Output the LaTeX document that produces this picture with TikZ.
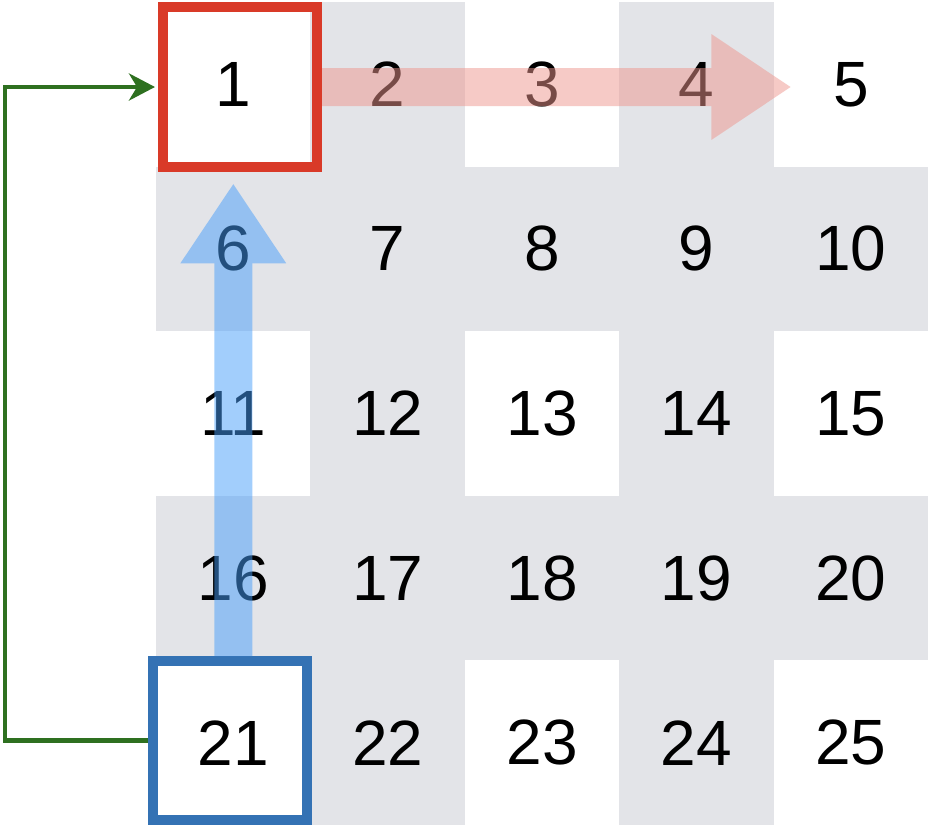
\documentclass[tikz,border=0pt]{standalone}
\usepackage{fontspec}
\setmainfont{Liberation Sans}
\usetikzlibrary{arrows.meta,calc}
\definecolor{cellgrey}{RGB}{227,228,232}
\definecolor{framered}{RGB}{217,58,40}
\definecolor{frameblue}{RGB}{52,114,180}
\definecolor{loopgreen}{RGB}{46,112,32}
\definecolor{pathred}{RGB}{238,150,142}
\definecolor{pathblue}{RGB}{70,158,250}

\begin{document}
\begin{tikzpicture}[x=1pt,y=-1pt,
    cell/.style={minimum width=154.6pt,minimum height=164.8pt,inner sep=0pt,font=\fontsize{64}{64}\selectfont},
    pickbox/.style={line width=10pt,minimum width=154pt,minimum height=160pt,inner sep=0pt},
    loopback/.style={draw=loopgreen,line width=4.5pt,-{Stealth[length=26pt,width=27pt,inset=8pt]},shorten >=3pt},
    fat/.style={line width=38pt,-{Triangle[length=80pt,width=100pt]}}]
    \useasboundingbox (0,0) rectangle (934,828);
    \foreach \r in {0,...,4}
        \foreach \c in {0,...,4}{
            \pgfmathtruncatemacro\n{5*\r+\c+1}
            \pgfmathtruncatemacro\g{max(mod(\r,2),mod(\c,2))}
            \ifnum\g=1 \def\tone{cellgrey}\else\def\tone{white}\fi
            \node[cell,fill=\tone] (c\n) at (233.3+154.4*\c,84.3+164.6*\r) {\n};
        }
    \node[pickbox,draw=framered] (f1) at ($(c1)+(6.7,2.7)$) {};
    \node[pickbox,draw=frameblue,minimum height=159pt] (f21) at ($(c21)+(-3.3,-2)$) {};
    \draw[loopback] (f21.west) -- ++(-143,0) |- (f1.west);
    \begin{scope}[transparency group,opacity=.5]
        \draw[fat,pathred] (f1.east) -- ($(c5.west |- f1.east)+(18,0)$);
    \end{scope}
    \begin{scope}[transparency group,opacity=.5]
        \draw[fat,pathblue] (c6 |- f21.north) -- ($(c6.north)+(0,17)$);
    \end{scope}
\end{tikzpicture}
\end{document}
